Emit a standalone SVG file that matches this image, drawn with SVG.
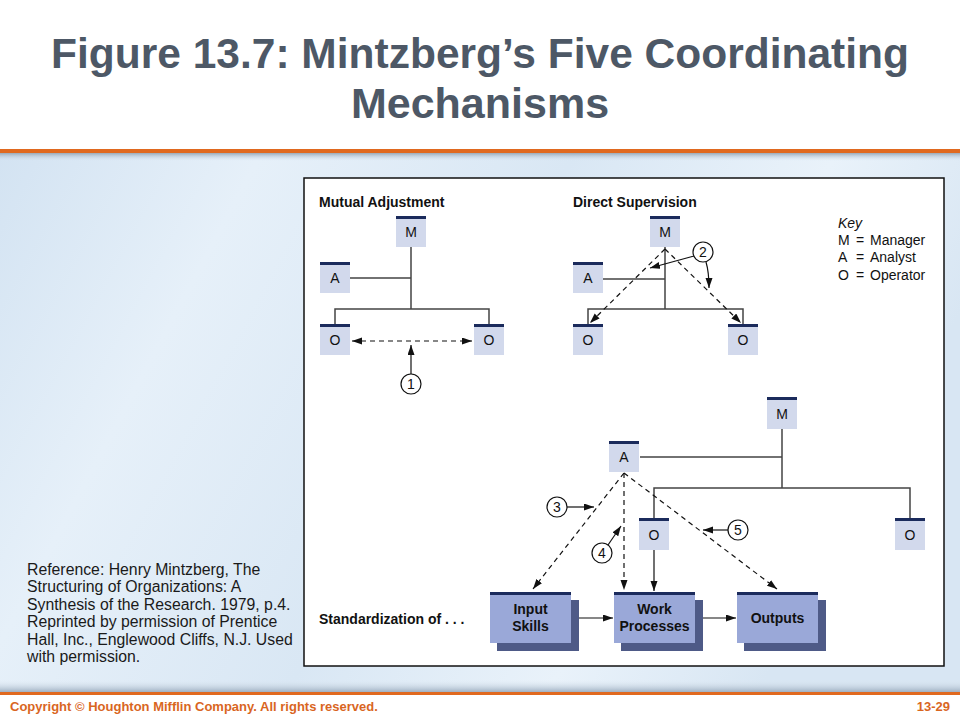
<svg xmlns="http://www.w3.org/2000/svg" width="960" height="720" viewBox="0 0 960 720">
<defs>
<linearGradient id="bg" x1="0" y1="0" x2="1" y2="0.3">
<stop offset="0" stop-color="#d3e3f2"/>
<stop offset="0.25" stop-color="#e6f0f9"/>
<stop offset="0.55" stop-color="#d9e7f4"/>
<stop offset="0.8" stop-color="#e9f2fa"/>
<stop offset="1" stop-color="#d8e6f3"/>
</linearGradient>
<linearGradient id="band" x1="0" y1="0" x2="0" y2="1">
<stop offset="0" stop-color="#dfe9f2" stop-opacity="0"/>
<stop offset="1" stop-color="#9fb0c2"/>
</linearGradient>
<linearGradient id="shd" x1="0" y1="0" x2="0" y2="1">
<stop offset="0" stop-color="#9aa9b8"/>
<stop offset="1" stop-color="#d8e6f3" stop-opacity="0"/>
</linearGradient>
<marker id="ah" markerUnits="userSpaceOnUse" markerWidth="11" markerHeight="8" refX="10" refY="3.5" orient="auto-start-reverse">
<path d="M0,0 L10,3.5 L0,7 z" fill="#111"/>
</marker>
</defs>
<style>
.title{font-family:"Liberation Sans",Arial,sans-serif;font-weight:bold;font-size:43px;fill:#4d5866;text-anchor:middle}
.lbl{font-family:"Liberation Sans",Arial,sans-serif;font-weight:bold;font-size:14px;fill:#111}
.t{font-family:"Liberation Sans",Arial,sans-serif;font-size:14px;fill:#111}
.c{text-anchor:middle}
.box{fill:#d2d9ec}
.bar{fill:#1b2b5c}
.big{fill:#9aa8d8}
.bsh{fill:#4e5a87}
.ln{stroke:#444;stroke-width:1.5;fill:none}
.dash{stroke:#111;stroke-width:1.2;stroke-dasharray:5,4;fill:none}
.arr{stroke:#111;stroke-width:1.2;fill:none}
.circ{fill:#fff;stroke:#111;stroke-width:1.2}
.ref{font-family:"Liberation Sans",Arial,sans-serif;font-size:15.8px;fill:#1a1a1a}
.foot{font-family:"Liberation Sans",Arial,sans-serif;font-weight:bold;font-size:13px;fill:#d9661f}
</style>

<!-- backgrounds -->
<rect x="0" y="0" width="960" height="720" fill="#ffffff"/>
<rect x="0" y="152" width="960" height="540" fill="url(#bg)"/>
<rect x="0" y="153" width="960" height="8" fill="url(#shd)"/>
<rect x="0" y="680" width="960" height="12" fill="url(#band)"/>
<rect x="0" y="149" width="960" height="4" fill="#e0691f"/>
<rect x="0" y="692" width="960" height="3" fill="#e0691f"/>
<rect x="0" y="695" width="960" height="25" fill="#ffffff"/>

<!-- title -->
<text class="title" x="480" y="68" textLength="858" lengthAdjust="spacingAndGlyphs">Figure 13.7: Mintzberg’s Five Coordinating</text>
<text class="title" x="480" y="118">Mechanisms</text>

<!-- reference note -->
<g id="reference">
<text class="ref" x="27" y="575">Reference: Henry Mintzberg, The</text>
<text class="ref" x="27" y="592">Structuring of Organizations: A</text>
<text class="ref" x="27" y="610">Synthesis of the Research. 1979, p.4.</text>
<text class="ref" x="27" y="627">Reprinted by permission of Prentice</text>
<text class="ref" x="27" y="645">Hall, Inc., Englewood Cliffs, N.J.  Used</text>
<text class="ref" x="27" y="662">with permission.</text>
</g>

<!-- footer -->
<text class="foot" x="10" y="711">Copyright © Houghton Mifflin Company. All rights reserved.</text>
<text class="foot" x="950" y="711" text-anchor="end">13-29</text>

<!-- figure frame -->
<rect x="304" y="178" width="640" height="488" fill="#ffffff" stroke="#111" stroke-width="1.5"/>

<text class="lbl" x="319" y="207">Mutual Adjustment</text>
<text class="lbl" x="573" y="207">Direct Supervision</text>
<text class="lbl" x="319" y="624">Standardization of . . .</text>

<g id="key">
<text class="t" x="838" y="228" font-style="italic">Key</text>
<text class="t" x="838" y="245">M</text><text class="t" x="856" y="245">=</text><text class="t" x="870" y="245">Manager</text>
<text class="t" x="838" y="262">A</text><text class="t" x="856" y="262">=</text><text class="t" x="870" y="262">Analyst</text>
<text class="t" x="838" y="280">O</text><text class="t" x="856" y="280">=</text><text class="t" x="870" y="280">Operator</text>
</g>

<!-- connectors -->
<g id="connectors">
<!-- mutual adjustment -->
<path class="ln" d="M411,247 V309 M350,278 H411 M335,324 V309 H489 V324"/>
<line class="dash" x1="352" y1="341" x2="472" y2="341" marker-start="url(#ah)" marker-end="url(#ah)"/>
<line class="arr" x1="411" y1="374" x2="411" y2="345" marker-end="url(#ah)"/>
<!-- direct supervision -->
<path class="ln" d="M665,247 V309 M603,279 H665 M588,324 V309 H743 V324"/>
<line class="dash" x1="665" y1="249" x2="590" y2="323" marker-end="url(#ah)"/>
<line class="dash" x1="665" y1="249" x2="741" y2="323" marker-end="url(#ah)"/>
<line class="arr" x1="694" y1="256" x2="650" y2="268" marker-end="url(#ah)"/>
<path class="arr" d="M706,262 Q709,272 709,288" marker-end="url(#ah)"/>
<!-- standardization -->
<path class="ln" d="M782,429 V488 M640,457 H782 M654,518 V488 H910 V518"/>
<line class="dash" x1="624" y1="473" x2="533" y2="589" marker-end="url(#ah)"/>
<line class="dash" x1="624" y1="473" x2="624" y2="590" marker-end="url(#ah)"/>
<line class="dash" x1="624" y1="473" x2="777" y2="589" marker-end="url(#ah)"/>
<line class="arr" x1="654" y1="550" x2="654" y2="591" marker-end="url(#ah)"/>
<line class="arr" x1="567" y1="507" x2="594" y2="507" marker-end="url(#ah)"/>
<line class="arr" x1="608" y1="545" x2="621" y2="526" marker-end="url(#ah)"/>
<line class="arr" x1="728" y1="530" x2="703" y2="530" marker-end="url(#ah)"/>
<line class="arr" x1="579" y1="618" x2="613" y2="618" marker-end="url(#ah)"/>
<line class="arr" x1="702" y1="618" x2="736" y2="618" marker-end="url(#ah)"/>
</g>

<!-- numbered markers -->
<g id="n1"><circle class="circ" cx="411" cy="384" r="10"/><text class="t c" x="411" y="389">1</text></g>
<g id="n2"><circle class="circ" cx="703" cy="252" r="10"/><text class="t c" x="703" y="257">2</text></g>
<g id="n3"><circle class="circ" cx="557" cy="507" r="10"/><text class="t c" x="557" y="512">3</text></g>
<g id="n4"><circle class="circ" cx="602" cy="553" r="10"/><text class="t c" x="602" y="558">4</text></g>
<g id="n5"><circle class="circ" cx="738" cy="530" r="10"/><text class="t c" x="738" y="535">5</text></g>

<!-- mutual adjustment nodes -->
<g id="ma-m"><rect class="box" x="396" y="216" width="30" height="31"/><rect class="bar" x="396" y="216" width="30" height="3"/><text class="t c" x="411" y="237">M</text></g>
<g id="ma-a"><rect class="box" x="320" y="262" width="30" height="31"/><rect class="bar" x="320" y="262" width="30" height="3"/><text class="t c" x="335" y="283">A</text></g>
<g id="ma-o1"><rect class="box" x="320" y="324" width="30" height="31"/><rect class="bar" x="320" y="324" width="30" height="3"/><text class="t c" x="335" y="345">O</text></g>
<g id="ma-o2"><rect class="box" x="474" y="324" width="30" height="31"/><rect class="bar" x="474" y="324" width="30" height="3"/><text class="t c" x="489" y="345">O</text></g>

<!-- direct supervision nodes -->
<g id="ds-m"><rect class="box" x="650" y="216" width="30" height="31"/><rect class="bar" x="650" y="216" width="30" height="3"/><text class="t c" x="665" y="237">M</text></g>
<g id="ds-a"><rect class="box" x="573" y="262" width="30" height="31"/><rect class="bar" x="573" y="262" width="30" height="3"/><text class="t c" x="588" y="283">A</text></g>
<g id="ds-o1"><rect class="box" x="573" y="324" width="30" height="31"/><rect class="bar" x="573" y="324" width="30" height="3"/><text class="t c" x="588" y="345">O</text></g>
<g id="ds-o2"><rect class="box" x="728" y="324" width="30" height="31"/><rect class="bar" x="728" y="324" width="30" height="3"/><text class="t c" x="743" y="345">O</text></g>

<!-- standardization nodes -->
<g id="st-m"><rect class="box" x="767" y="397" width="30" height="32"/><rect class="bar" x="767" y="397" width="30" height="3"/><text class="t c" x="782" y="419">M</text></g>
<g id="st-a"><rect class="box" x="609" y="441" width="30" height="31"/><rect class="bar" x="609" y="441" width="30" height="3"/><text class="t c" x="624" y="462">A</text></g>
<g id="st-o1"><rect class="box" x="639" y="518" width="30" height="32"/><rect class="bar" x="639" y="518" width="30" height="3"/><text class="t c" x="654" y="540">O</text></g>
<g id="st-o2"><rect class="box" x="895" y="518" width="30" height="32"/><rect class="bar" x="895" y="518" width="30" height="3"/><text class="t c" x="910" y="540">O</text></g>

<g id="input-skills"><rect class="bsh" x="497" y="600" width="82" height="51"/><rect class="big" x="490" y="592" width="81" height="51"/><rect class="bar" x="490" y="592" width="81" height="3"/><text class="lbl c" x="530.5" y="614">Input</text><text class="lbl c" x="530.5" y="631">Skills</text></g>
<g id="work-processes"><rect class="bsh" x="621" y="600" width="82" height="51"/><rect class="big" x="614" y="592" width="81" height="51"/><rect class="bar" x="614" y="592" width="81" height="3"/><text class="lbl c" x="654.5" y="614">Work</text><text class="lbl c" x="654.5" y="631">Processes</text></g>
<g id="outputs"><rect class="bsh" x="744" y="600" width="82" height="51"/><rect class="big" x="737" y="592" width="81" height="51"/><rect class="bar" x="737" y="592" width="81" height="3"/><text class="lbl c" x="777.5" y="623">Outputs</text></g>
</svg>
